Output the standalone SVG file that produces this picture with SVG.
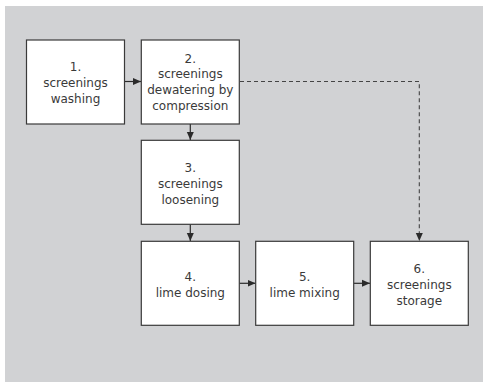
<svg xmlns="http://www.w3.org/2000/svg" width="483" height="382" viewBox="0 0 483 382">
<defs>
<marker id="ah" markerWidth="8" markerHeight="8" refX="8" refY="4" orient="auto" markerUnits="userSpaceOnUse">
<path d="M0,0.5 L8,4 L0,7.5 Z" fill="#2b2b2b"/>
</marker>
<style>
.box{fill:#ffffff;stroke:#3a3a3a;stroke-width:1.2}
.t{font-family:"DejaVu Sans",sans-serif;font-size:12px;fill:#3a3a3a;text-anchor:middle}
.c{stroke:#2b2b2b;stroke-width:1.2;fill:none}
.d{stroke:#444;stroke-width:1.1;fill:none;stroke-dasharray:4 3}
</style>
</defs>
<rect x="0" y="0" width="483" height="382" fill="#ffffff"/>
<rect x="5" y="6" width="478" height="376" fill="#d1d2d4"/>
<g id="connectors">
<line class="c" x1="124.7" y1="81.5" x2="141" y2="81.5" marker-end="url(#ah)"/>
<line class="c" x1="190.3" y1="124" x2="190.3" y2="140" marker-end="url(#ah)"/>
<line class="c" x1="190.3" y1="224.3" x2="190.3" y2="241" marker-end="url(#ah)"/>
<line class="c" x1="239.3" y1="283.3" x2="255.5" y2="283.3" marker-end="url(#ah)"/>
<line class="c" x1="353.7" y1="283.3" x2="370" y2="283.3" marker-end="url(#ah)"/>
<polyline class="d" points="240,81.5 419.3,81.5 419.3,233"/>
<path d="M415.8,233 L419.3,241 L422.8,233 Z" fill="#2b2b2b"/>
</g>
<g id="n1">
<rect class="box" x="26.5" y="40" width="98" height="84"/>
<text class="t" x="75.5" y="70.5">1.</text>
<text class="t" x="75.5" y="86.5">screenings</text>
<text class="t" x="75.5" y="102.5">washing</text>
</g>
<g id="n2">
<rect class="box" x="141.3" y="40" width="98" height="84"/>
<text class="t" x="190.3" y="62.5">2.</text>
<text class="t" x="190.3" y="78">screenings</text>
<text class="t" x="190.3" y="93.8">dewatering by</text>
<text class="t" x="190.3" y="109.5">compression</text>
</g>
<g id="n3">
<rect class="box" x="141.3" y="140.3" width="98" height="84"/>
<text class="t" x="190.3" y="171.5">3.</text>
<text class="t" x="190.3" y="187.5">screenings</text>
<text class="t" x="190.3" y="203.5">loosening</text>
</g>
<g id="n4">
<rect class="box" x="141.3" y="241.3" width="98" height="84"/>
<text class="t" x="190.3" y="281">4.</text>
<text class="t" x="190.3" y="297">lime dosing</text>
</g>
<g id="n5">
<rect class="box" x="255.7" y="241.3" width="98" height="84"/>
<text class="t" x="304.7" y="281">5.</text>
<text class="t" x="304.7" y="297">lime mixing</text>
</g>
<g id="n6">
<rect class="box" x="370.3" y="241.3" width="98" height="84"/>
<text class="t" x="419.3" y="272.5">6.</text>
<text class="t" x="419.3" y="288.5">screenings</text>
<text class="t" x="419.3" y="304.5">storage</text>
</g>
</svg>
